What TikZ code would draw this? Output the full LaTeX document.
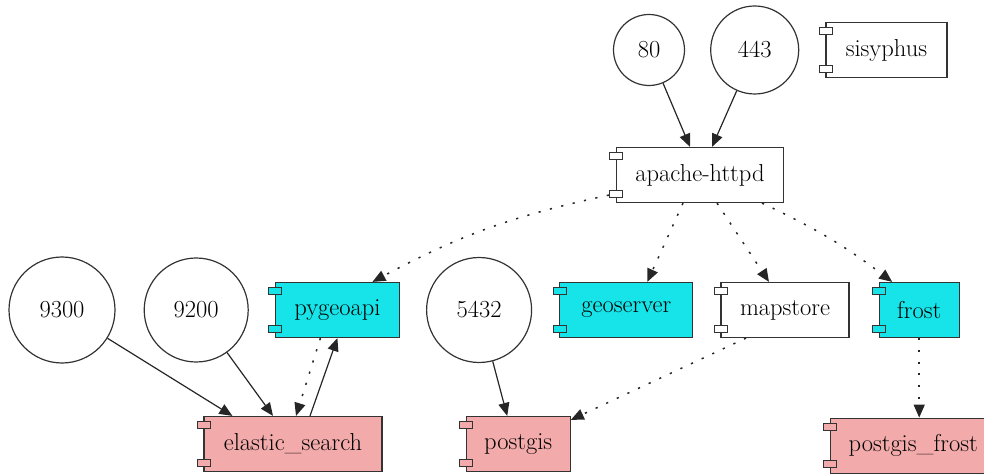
\documentclass[tikz,border=0pt]{standalone}
\usepackage{xcolor}
\usepackage{tikz}
\usetikzlibrary{positioning,arrows.meta}

\definecolor{svcfill}{RGB}{22,228,232}
\definecolor{dbfill}{RGB}{242,170,170}

\begin{document}
\begin{tikzpicture}[
    x=1pt, y=1pt,
    font=\fontsize{24.5}{30}\selectfont,
    comp/.style={rectangle, draw=black!80, line width=1.2pt, minimum height=55pt, inner xsep=4pt, text=black},
    svc/.style={comp, fill=svcfill},
    db/.style={comp, fill=dbfill},
    portc/.style={circle, draw=black!80, line width=1.2pt, inner sep=0pt, text=black, minimum size=#1},
    tab/.style={draw=black!80, line width=1pt},
    arr/.style={-{Triangle[length=13pt,width=11pt]}, line width=1.2pt, color=black!85},
    dep/.style={arr, line width=1.5pt, dash pattern=on 2.2pt off 9.5pt}
]
\useasboundingbox (0,0) rectangle (984,474);

% ============================================================
% TOP ROW — ports and proxy
% ============================================================
\node[portc=71pt] (port80) at (649,424) {80};
\node[portc=88pt, right=25pt of port80] (port443) {443};
\node[comp, minimum width=121pt, right=26pt of port443] (sisyphus) {sisyphus};

\node[comp, minimum width=167pt] (apache) at (700,299) {apache-httpd};

% ============================================================
% MIDDLE ROW — services
% ============================================================
\node[portc=106pt] (port9300) at (62,164) {9300};
\node[portc=104pt, right=28pt of port9300] (port9200) {9200};
\node[svc, minimum width=124pt, right=26pt of port9200] (pygeoapi) {pygeoapi};
\node[portc=105pt, right=26pt of pygeoapi] (port5432) {5432};
\node[svc, minimum width=133pt, right=27pt of port5432] (geoserver) {geoserver};
\node[comp, minimum width=128pt, right=27pt of geoserver] (mapstore) {mapstore};
\node[svc, minimum width=80pt, right=29pt of mapstore] (frost) {frost};

% ============================================================
% BOTTOM ROW — storage
% ============================================================
\node[db, minimum width=178pt] (elastic) at (293,30) {elastic\_search};
\node[db, minimum width=104pt, right=83pt of elastic] (postgis) {postgis};
\node[db, minimum width=166pt, below=79.5pt of frost, xshift=-6pt] (pgfrost) {postgis\_frost};

% component tabs
\foreach \n/\c in {sisyphus/white, apache/white, mapstore/white,
                   pygeoapi/svcfill, geoserver/svcfill, frost/svcfill,
                   elastic/dbfill, postgis/dbfill, pgfrost/dbfill}
  \draw[tab, fill=\c] ([xshift=-6pt,yshift=-6pt]\n.north west) rectangle ++(13pt,-7pt)
                      ([xshift=-6pt,yshift=6pt]\n.south west) rectangle ++(13pt,7pt);

% ============================================================
% CONNECTORS
% ============================================================
\draw[arr] (port80) -- ([xshift=-10pt]apache.north);
\draw[arr] (port443) -- ([xshift=12pt]apache.north);

\draw[dep] ([xshift=-7pt,yshift=8pt]apache.south west) to[bend right=8] ([xshift=35pt]pygeoapi.north);
\draw[dep] ([xshift=-17pt]apache.south) -- ([xshift=21pt]geoserver.north);
\draw[dep] ([xshift=17pt]apache.south) -- ([xshift=-16pt]mapstore.north);
\draw[dep] ([xshift=62pt]apache.south) to[bend left=6] ([xshift=-27pt]frost.north);

\draw[dep] ([xshift=-17pt]pygeoapi.south) -- ([xshift=3pt]elastic.north);
\draw[arr] ([xshift=17pt]elastic.north) -- (pygeoapi.south);
\draw[arr] (port9300) -- ([xshift=29pt]elastic.north west);
\draw[arr] (port9200) -- ([xshift=-20pt]elastic.north);

\draw[arr] (port5432) -- ([xshift=-11pt]postgis.north);
\draw[dep] ([xshift=-39pt]mapstore.south) -- ([yshift=-4pt]postgis.north east);
\draw[dep] (frost.south) -- (frost.south |- pgfrost.north);

\end{tikzpicture}
\end{document}
